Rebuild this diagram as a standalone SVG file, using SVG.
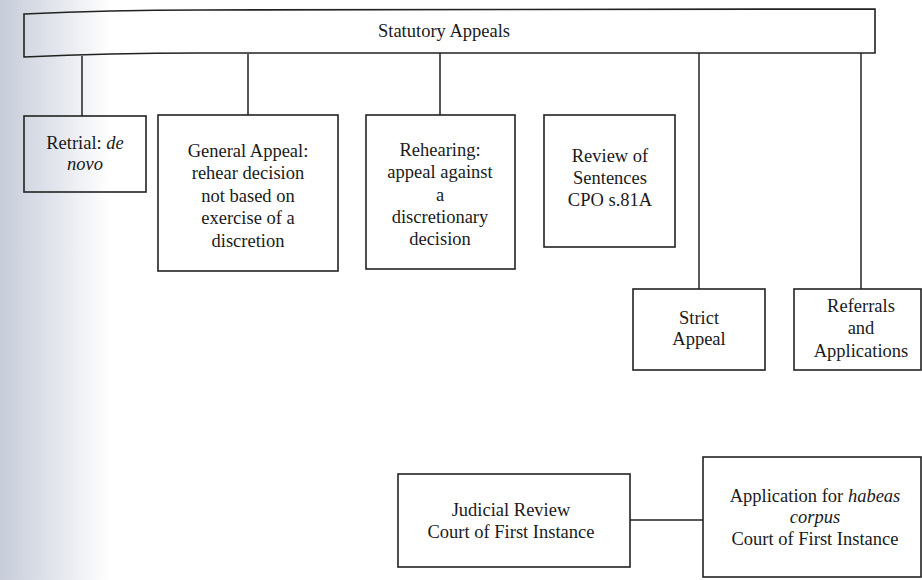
<svg xmlns="http://www.w3.org/2000/svg" width="922" height="580" viewBox="0 0 922 580">
  <defs>
    <linearGradient id="scan" x1="0" y1="0" x2="1" y2="0">
      <stop offset="0" stop-color="#c6ccd8"/>
      <stop offset="0.5" stop-color="#e2e5ec"/>
      <stop offset="1" stop-color="#ffffff"/>
    </linearGradient>
  </defs>
  <style>
    .box { fill: none; stroke: #222; stroke-width: 1.6; }
    .conn line { stroke: #222; stroke-width: 1.5; }
    .t { font-family: 'Liberation Serif', serif; font-size: 18.5px; fill: #1a1a1a; text-anchor: middle; }
    .it { font-style: italic; }
  </style>
  <rect x="0" y="0" width="922" height="580" fill="#ffffff"/>
  <rect x="0" y="0" width="110" height="580" fill="url(#scan)"/>

  <g id="connectors" class="conn">
    <line x1="82" y1="56" x2="82" y2="116"/>
    <line x1="248" y1="54" x2="248" y2="115"/>
    <line x1="440" y1="53" x2="440" y2="115"/>
    <line x1="699" y1="53" x2="699" y2="289"/>
    <line x1="861" y1="53" x2="861" y2="289"/>
    <line x1="630" y1="520" x2="703" y2="520"/>
  </g>

  <g id="statutory-appeals">
    <path class="box" d="M24,14 Q110,10 200,10 L875,9 L875,53 L200,53 Q110,53 24,57 Z"/>
    <text class="t" x="444" y="37">Statutory Appeals</text>
  </g>

  <g id="retrial">
    <rect class="box" x="24" y="116" width="122" height="76"/>
    <text class="t" x="85" y="149">Retrial: <tspan class="it">de</tspan></text>
    <text class="t it" x="85" y="170">novo</text>
  </g>

  <g id="general-appeal">
    <rect class="box" x="158" y="115" width="180" height="156"/>
    <text class="t" x="248" y="157">General Appeal:</text>
    <text class="t" x="248" y="179">rehear decision</text>
    <text class="t" x="248" y="202">not based on</text>
    <text class="t" x="248" y="224">exercise of a</text>
    <text class="t" x="248" y="247">discretion</text>
  </g>

  <g id="rehearing">
    <rect class="box" x="366" y="115" width="149" height="154"/>
    <text class="t" x="440" y="156">Rehearing:</text>
    <text class="t" x="440" y="178">appeal against</text>
    <text class="t" x="440" y="201">a</text>
    <text class="t" x="440" y="223">discretionary</text>
    <text class="t" x="440" y="245">decision</text>
  </g>

  <g id="review-of-sentences">
    <rect class="box" x="544" y="115" width="131" height="132"/>
    <text class="t" x="610" y="162">Review of</text>
    <text class="t" x="610" y="184">Sentences</text>
    <text class="t" x="610" y="206">CPO s.81A</text>
  </g>

  <g id="strict-appeal">
    <rect class="box" x="633" y="289" width="132" height="81"/>
    <text class="t" x="699" y="324">Strict</text>
    <text class="t" x="699" y="345">Appeal</text>
  </g>

  <g id="referrals">
    <rect class="box" x="794" y="289" width="127" height="81"/>
    <text class="t" x="861" y="312">Referrals</text>
    <text class="t" x="861" y="334">and</text>
    <text class="t" x="861" y="357">Applications</text>
  </g>

  <g id="judicial-review">
    <rect class="box" x="398" y="474" width="232" height="93"/>
    <text class="t" x="511" y="516">Judicial Review</text>
    <text class="t" x="511" y="538">Court of First Instance</text>
  </g>

  <g id="habeas-corpus">
    <rect class="box" x="703" y="457" width="218" height="120"/>
    <text class="t" x="815" y="502">Application for <tspan class="it">habeas</tspan></text>
    <text class="t it" x="815" y="523">corpus</text>
    <text class="t" x="815" y="545">Court of First Instance</text>
  </g>
</svg>
